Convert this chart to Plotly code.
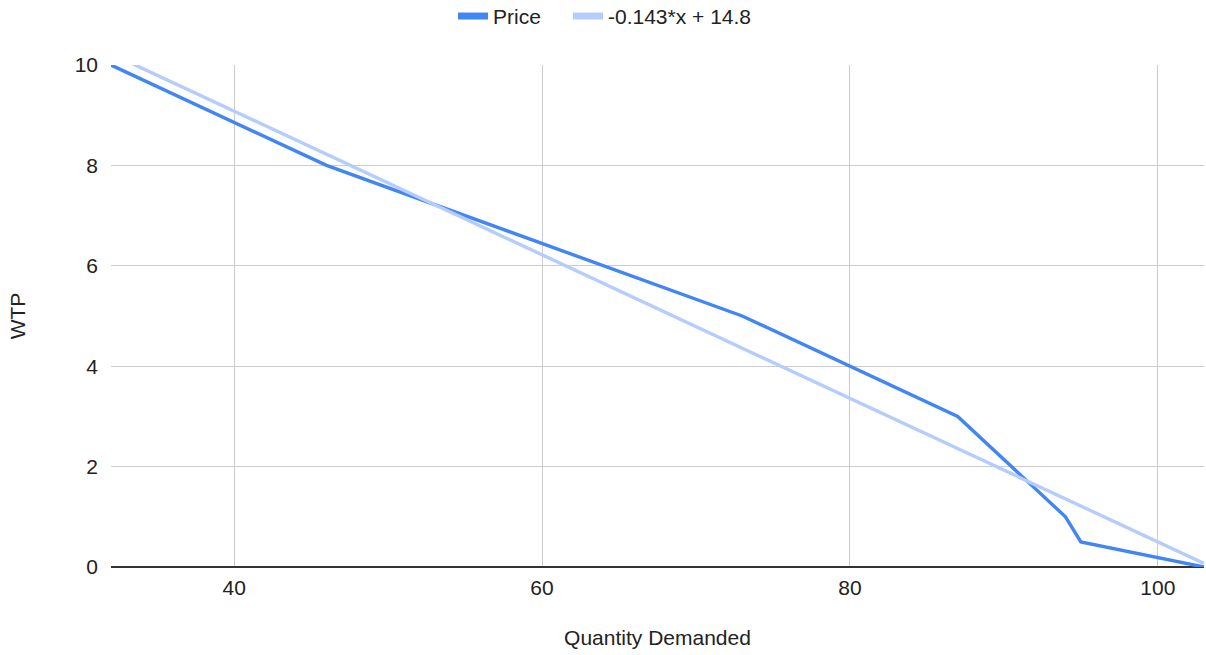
import plotly.graph_objects as go

# Demand schedule: quantity demanded at each willingness-to-pay level
quantity = [32, 46, 73, 80, 87, 94, 95, 103]
price = [10, 8, 5, 4, 3, 1, 0.5, 0]

# Linear trendline coefficients
slope = -0.143
intercept = 14.8
trend_x = [32, 103]
trend_y = [slope * x + intercept for x in trend_x]

FONT = "Liberation Sans, Arial, sans-serif"
FS = 21
PRICE_COLOR = "#4285F4"
TREND_COLOR = "#B5CDFA"
TREND_NAME = "-0.143*x + 14.8"

fig = go.Figure()
fig.add_trace(go.Scatter(
    x=quantity, y=price, mode="lines", name="Price",
    line=dict(color=PRICE_COLOR, width=3.4),
    legendgroup="price", showlegend=False,
))
fig.add_trace(go.Scatter(
    x=trend_x, y=trend_y, mode="lines", name=TREND_NAME,
    line=dict(color=TREND_COLOR, width=3.4),
    legendgroup="trend", showlegend=False,
))
# Legend keys drawn as thick bars, one legend box per series
fig.add_trace(go.Scatter(
    x=[None], y=[None], mode="lines", name="Price",
    line=dict(color=PRICE_COLOR, width=7), legendgroup="price",
    legend="legend",
))
fig.add_trace(go.Scatter(
    x=[None], y=[None], mode="lines", name=TREND_NAME,
    line=dict(color=TREND_COLOR, width=7), legendgroup="trend",
    legend="legend2",
))

legend_style = dict(
    orientation="h", xref="container", xanchor="left",
    y=0.975, yanchor="middle", yref="container",
    font=dict(size=FS, color="#222222"), itemwidth=30,
)

fig.update_layout(
    width=1206, height=655,
    margin=dict(l=111, r=2, t=65, b=88),
    paper_bgcolor="white", plot_bgcolor="white",
    font=dict(family=FONT, size=FS, color="#222222"),
    legend=dict(legend_style, x=453 / 1206),
    legend2=dict(legend_style, x=568 / 1206),
    showlegend=True,
)

fig.update_xaxes(
    range=[32, 103], tickvals=[40, 60, 80, 100],
    showgrid=True, gridcolor="#CCCCCC", gridwidth=1,
    zeroline=False, showline=False, ticks="",
    ticklabelstandoff=6,
    title=dict(text="Quantity Demanded", font=dict(size=FS), standoff=32),
    tickfont=dict(size=FS),
)
fig.update_yaxes(
    range=[0, 10], tickvals=[0, 2, 4, 6, 8, 10],
    showgrid=True, gridcolor="#CCCCCC", gridwidth=1,
    zeroline=True, zerolinecolor="#333333", zerolinewidth=2,
    showline=False, ticks="",
    ticklabelstandoff=12,
    title=dict(text="WTP", font=dict(size=FS), standoff=43),
    tickfont=dict(size=FS),
)

fig.write_html("out.html")
